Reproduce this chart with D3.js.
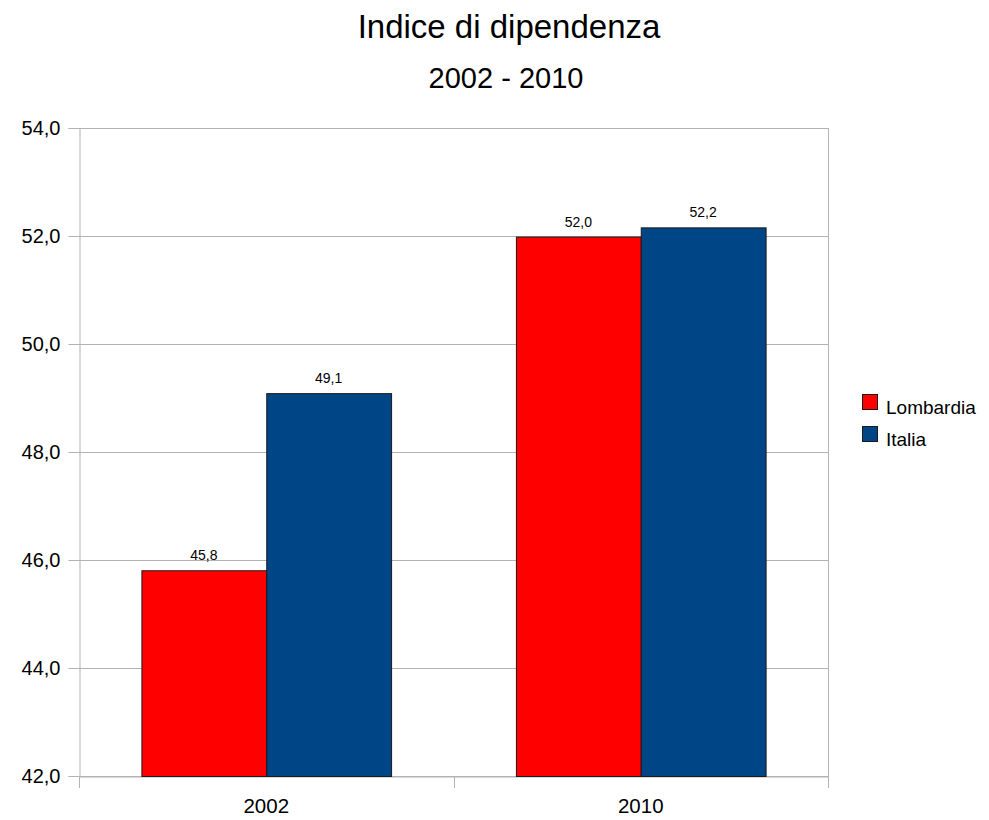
<!DOCTYPE html>
<html>
<head>
<meta charset="utf-8">
<script src="https://cdn.jsdelivr.net/npm/d3@7"></script>
<style>
  html, body { margin: 0; padding: 0; background: #fff; }
  svg { display: block; font-family: "Liberation Sans", Arial, sans-serif; }
</style>
</head>
<body>
<svg id="chart" width="989" height="820"></svg>
<script>
const categories = ["2002", "2010"];
const seriesNames = ["Lombardia", "Italia"];
const lombardia = [45.81, 51.99];
const italia = [49.09, 52.16];
const seriesColors = ["#ff0000", "#004586"];
const yTicks = [42, 44, 46, 48, 50, 52, 54];
const titleText = "Indice di dipendenza";
const subtitleText = "2002 - 2010";

(function () {
const seriesValues = [lombardia, italia];
const svg = d3.select("#chart");
const pLeft = 79, pRight = 828, pTop = 128, pBottom = 776;
const fmt = v => d3.format(".1f")(v).replace(".", ",");

const y = d3.scaleLinear().domain([42, 54]).range([pBottom, pTop]);
const x0 = d3.scaleBand().domain(categories).range([pLeft, pRight]).padding(0);
const bw = x0.bandwidth();
const x1 = d3.scaleBand().domain(seriesNames).range([bw / 6, bw * 5 / 6]).padding(0);

// gridlines
svg.append("g").selectAll("line").data(yTicks).join("line")
  .attr("x1", pLeft).attr("x2", pRight)
  .attr("y1", d => y(d) + 0.5).attr("y2", d => y(d) + 0.5)
  .attr("stroke", "#b3b3b3").attr("stroke-width", 1);

// right border line
svg.append("line").attr("x1", pRight + 0.5).attr("x2", pRight + 0.5)
  .attr("y1", pTop).attr("y2", pBottom).attr("stroke", "#b3b3b3");

// y axis
const yAxis = d3.axisLeft(y).tickValues(yTicks).tickFormat(fmt).tickSize(11).tickPadding(8);
const gy = svg.append("g").attr("transform", `translate(${pLeft + 0.5},0)`).call(yAxis);
gy.select(".domain").attr("stroke", "#b3b3b3");
gy.selectAll(".tick line").attr("stroke", "#b3b3b3");
gy.selectAll(".tick text").attr("font-size", 20).attr("fill", "#000")
  .attr("font-family", "Liberation Sans, Arial, sans-serif");

// x axis
const xAxis = d3.axisBottom(x0).tickSize(0).tickPadding(22);
const gx = svg.append("g").attr("transform", `translate(0,${pBottom + 0.5})`).call(xAxis);
gx.select(".domain").attr("stroke", "#b3b3b3");
gx.selectAll(".tick text").attr("font-size", 20.5).attr("fill", "#000")
  .attr("font-family", "Liberation Sans, Arial, sans-serif");
// category boundary ticks
const bounds = [pLeft, ...categories.map(c => x0(c) + bw)];
svg.append("g").selectAll("line").data(bounds).join("line")
  .attr("x1", d => Math.round(d) + 0.5).attr("x2", d => Math.round(d) + 0.5)
  .attr("y1", pBottom).attr("y2", pBottom + 12)
  .attr("stroke", "#b3b3b3");

// bars
const groups = svg.append("g").selectAll("g").data(categories).join("g")
  .attr("transform", c => `translate(${x0(c)},0)`);
groups.selectAll("rect").data((c, i) => seriesNames.map((s, j) => ({ s, j, v: seriesValues[j][i] })))
  .join("rect")
  .attr("x", d => x1(d.s) + 0.5)
  .attr("y", d => y(d.v) + 0.5)
  .attr("width", x1.bandwidth())
  .attr("height", d => y(42) - y(d.v))
  .attr("fill", d => seriesColors[d.j])
  .attr("stroke", "#1a1a1a").attr("stroke-width", 1);
groups.selectAll("text").data((c, i) => seriesNames.map((s, j) => ({ s, j, v: seriesValues[j][i] })))
  .join("text")
  .attr("x", d => x1(d.s) + x1.bandwidth() / 2)
  .attr("y", d => y(d.v) - 10)
  .attr("text-anchor", "middle")
  .attr("font-size", 14)
  .text(d => fmt(d.v));

// titles
svg.append("text").attr("x", 509).attr("y", 38).attr("text-anchor", "middle")
  .attr("font-size", 33).text(titleText);
svg.append("text").attr("x", 506).attr("y", 88).attr("text-anchor", "middle")
  .attr("font-size", 29).text(subtitleText);

// legend
const legend = svg.append("g").selectAll("g").data(seriesNames).join("g")
  .attr("transform", (d, i) => `translate(862,${394 + i * 32})`);
legend.append("rect").attr("x", 0.5).attr("y", 0.5).attr("width", 15).attr("height", 15)
  .attr("fill", (d, i) => seriesColors[i]).attr("stroke", "#1a1a1a");
legend.append("text").attr("x", 24).attr("y", 20).attr("font-size", 19).text(d => d);
})();
</script>
</body>
</html>
